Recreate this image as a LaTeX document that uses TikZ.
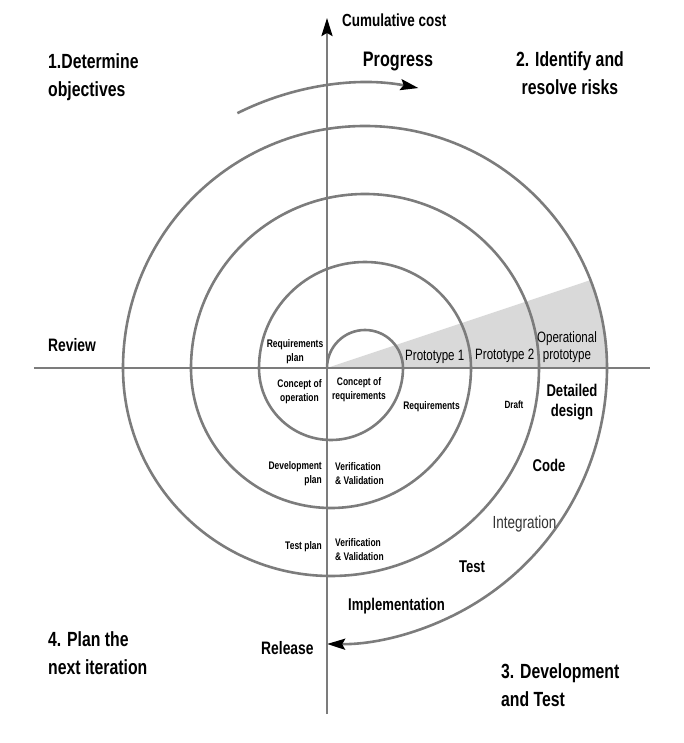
\documentclass[tikz,border=0pt]{standalone}
\usepackage{fontspec}
\setmainfont{Liberation Sans}[FakeStretch=0.77]
\usetikzlibrary{arrows.meta}
\definecolor{spiralgray}{HTML}{7C7C7C}
\definecolor{wedgegray}{HTML}{D9D9D9}
\definecolor{labelgray}{HTML}{333333}

\begin{document}
\begin{tikzpicture}[
  x=1pt, y=1pt,
  line/.style={draw=spiralgray, line width=2.6pt},
  arrow/.style={-{Stealth[black, length=18pt, width=11pt, inset=3pt]}},
  quadlabel/.style={font=\fontsize{20.5}{28}\selectfont\bfseries, inner sep=0pt},
  axislabel/.style={font=\fontsize{18}{20}\selectfont\bfseries, inner sep=0pt},
  stagelabel/.style={font=\fontsize{17}{20}\selectfont\bfseries, inner sep=0pt},
  protolabel/.style={font=\fontsize{15}{16.5}\selectfont, inner sep=0pt},
  notelabel/.style={font=\fontsize{11}{14}\selectfont\bfseries, inner sep=0pt}
]
\useasboundingbox (-327,-375) rectangle (357,368);

\coordinate (origin) at (0,0);
\coordinate (costtop) at (0,350);
\coordinate (axisbottom) at (0,-346);
\coordinate (axisleft) at (-293,0);
\coordinate (axisright) at (323,0);
\coordinate (spiralend) at (280,0);
\coordinate (progstart) at ([shift={(116.6:285)}]38,0);

\fill[wedgegray] (origin) -- ([shift={(21.3:242)}]38,0)
  arc[start angle=21.3, end angle=0, radius=242] -- cycle;

\draw[line] (origin)
  arc[start angle=180, end angle=0, radius=38]
  arc[start angle=0, end angle=-180, radius=72]
  arc[start angle=180, end angle=0, radius=106]
  arc[start angle=0, end angle=-180, radius=140]
  arc[start angle=180, end angle=0, radius=174]
  arc[start angle=0, end angle=-180, radius=208]
  arc[start angle=180, end angle=0, radius=242];
\draw[line, arrow] (spiralend) arc[start angle=0, end angle=-90.8, radius=276];

\draw[line, arrow] (axisbottom) -- (costtop);
\draw[line] (axisleft) -- (axisright);
\draw[line, arrow] (progstart) arc[start angle=116.6, end angle=79.2, radius=285];

\node[axislabel, font=\fontsize{17.5}{20}\selectfont\bfseries, anchor=base west] (cost) at (15,341) {Cumulative cost};
\node[quadlabel, font=\fontsize{21}{24}\selectfont\bfseries, anchor=base] (progress) at (71,301) {Progress};
\node[quadlabel, align=left, anchor=west] (objectives) at (-279,291.2) {1.Determine\\objectives};
\node[quadlabel, align=center] (risks) at (243,294.4) {2. Identify and\\resolve risks};
\node[quadlabel, align=left, anchor=west] (devtest) at (174,-317.6) {3. Development\\and Test};
\node[quadlabel, align=left, anchor=west] (nextiter) at (-279,-285.6) {4. Plan the\\next iteration};

\node[axislabel, anchor=base west] (review) at (-279,16) {Review};
\node[axislabel, anchor=base west] (release) at (-66,-286) {Release};

\node[protolabel, anchor=base west] (proto1) at (78,7.3) {Prototype 1};
\node[protolabel, anchor=base west] (proto2) at (148,8) {Prototype 2};
\node[protolabel, align=center] (opproto) at (240,21.1) {Operational\\prototype};

\node[notelabel, align=center] (reqplan) at (-32,16.7) {Requirements\\plan};
\node[notelabel, align=center] (conops) at (-27.5,-24) {Concept of\\operation};
\node[notelabel, align=center] (conreq) at (32,-21.7) {Concept of\\requirements};
\node[notelabel, anchor=base] (reqs) at (104.5,-42) {Requirements};
\node[notelabel, font=\fontsize{10.5}{12}\selectfont\bfseries, anchor=base] (draft) at (187,-41) {Draft};
\node[notelabel, align=right, anchor=east] (devplan) at (-5,-105.7) {Development\\plan};
\node[notelabel, align=left, anchor=west] (vv1) at (8,-105.3) {Verification\\\& Validation};
\node[notelabel, anchor=base east] (testplan) at (-5,-181) {Test plan};
\node[notelabel, align=left, anchor=west] (vv2) at (8,-181.8) {Verification\\\& Validation};

\node[stagelabel, align=center] (design) at (245,-34.3) {Detailed\\design};
\node[stagelabel, anchor=base] (code) at (222,-103.7) {Code};
\node[stagelabel, font=\fontsize{17.5}{20}\selectfont, text=labelgray, anchor=base] (integration) at (197.5,-160) {Integration};
\node[stagelabel, anchor=base] (test) at (145,-204.3) {Test};
\node[stagelabel, anchor=base west] (impl) at (21,-242) {Implementation};
\end{tikzpicture}
\end{document}
